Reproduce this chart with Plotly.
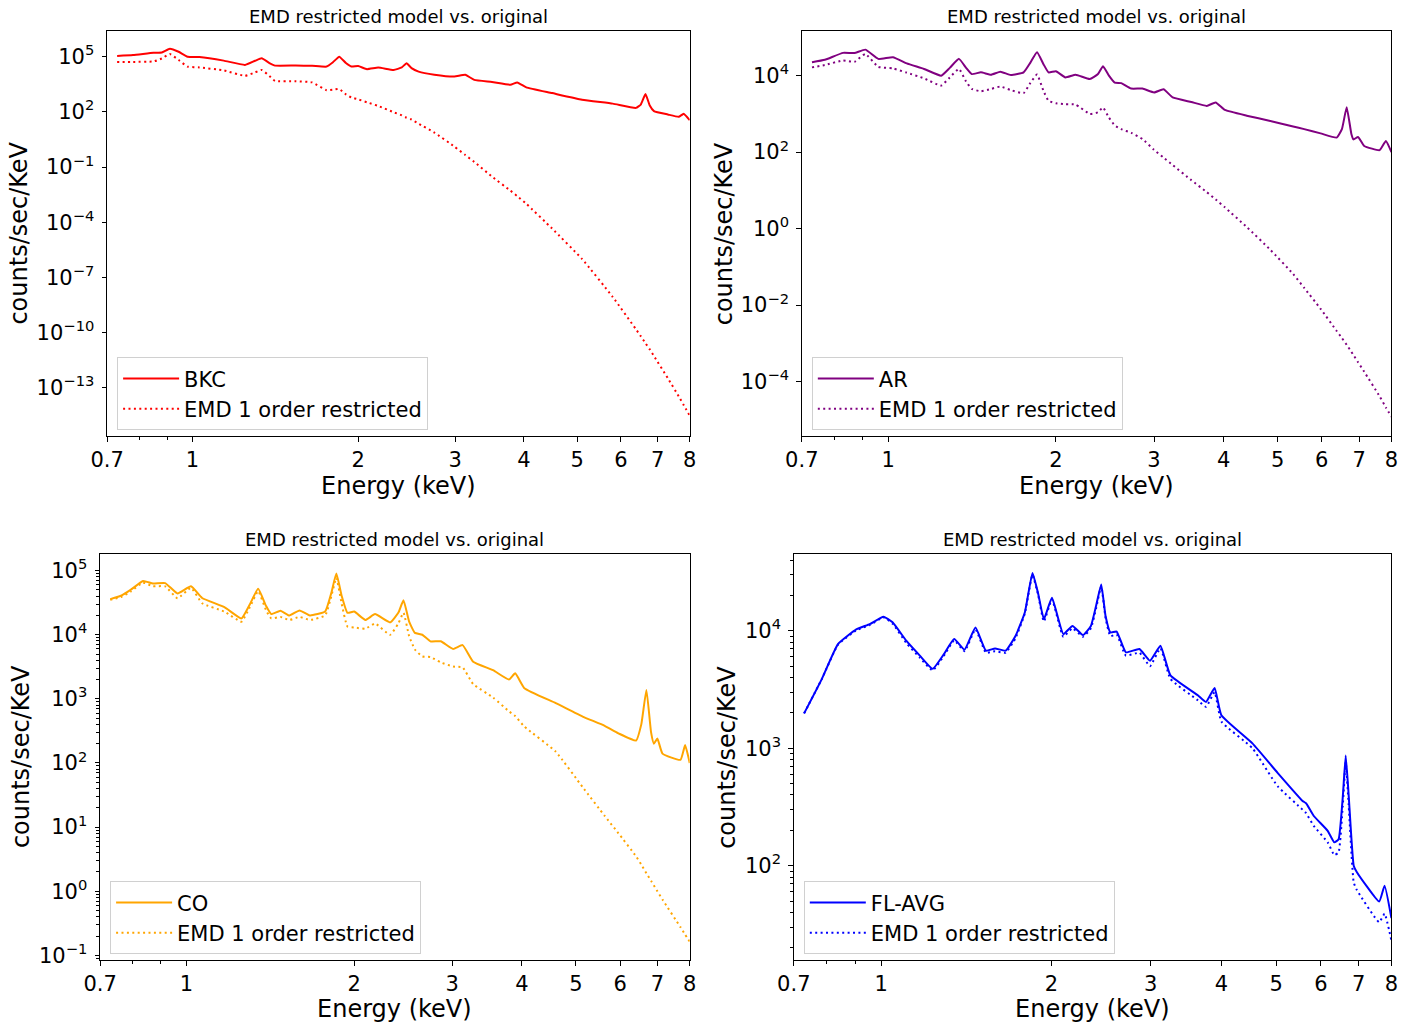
import math
import plotly.graph_objects as go

# ---------------- data ----------------
# Panel 1: BKC
energy_bkc = [0.73, 0.78, 0.85, 0.88, 0.91, 0.944, 0.98, 1.03, 1.14, 1.246, 1.30, 1.336, 1.38, 1.413,
              1.54, 1.65, 1.753, 1.80, 1.848, 1.90, 1.944, 2.0, 2.075, 2.175, 2.32, 2.40, 2.448, 2.50,
              2.575, 2.75, 2.99, 3.13, 3.25, 3.5, 3.78, 3.89, 4.04, 4.5, 5.1, 5.8, 6.39, 6.52, 6.65,
              6.77, 6.89, 7.3, 7.64, 7.8, 8.0]
bkc_orig = [1.09e5, 1.23e5, 1.64e5, 1.7e5, 2.7e5, 1.86e5, 1.0e5, 9.6e4, 6.1e4, 3.56e4, 6.0e4, 8.1e4,
            4.5e4, 3.27e4, 3.3e4, 3.2e4, 2.9e4, 5.0e4, 1.0e5, 4.5e4, 2.9e4, 3.1e4, 2.1e4, 2.56e4,
            1.9e4, 2.6e4, 4.4e4, 2.4e4, 1.55e4, 1.05e4, 8.3e3, 1.03e4, 5.5e3, 4.2e3, 2.95e3, 4.0e3,
            2.14e3, 1.05e3, 460, 280, 164, 250, 930, 220, 109, 72, 54, 78, 35]
bkc_emd = [5.2e4, 5.2e4, 5.5e4, 8.0e4, 1.4e5, 6.6e4, 2.9e4, 2.6e4, 1.8e4, 9.1e3, 1.4e4, 1.9e4, 9.0e3,
           4.8e3, 4.6e3, 4.0e3, 1.5e3, 1.6e3, 1.74e3, 900, 600, 480, 330, 210, 95, 65, 48, 38, 22.6,
           7.5, 1.3, 0.45, 0.19, 0.03, 5.2e-3, 2.6e-3, 1.0e-3, 4.5e-5, 1.0e-6, 8.5e-9, 1.5e-10,
           6.3e-11, 2.6e-11, 1.2e-11, 5.2e-12, 3.3e-13, 3.4e-14, 1.15e-14, 3.0e-15]

# Panel 2: AR
energy_ar = [0.73, 0.77, 0.83, 0.87, 0.91, 0.96, 1.02, 1.08, 1.16, 1.245, 1.29, 1.34, 1.38, 1.413, 1.467,
             1.53, 1.59, 1.66, 1.75, 1.80, 1.85, 1.90, 1.94, 2.0, 2.08, 2.17, 2.30, 2.38, 2.43, 2.49,
             2.55, 2.62, 2.73, 2.86, 3.0, 3.12, 3.24, 3.5, 3.73, 3.87, 4.02, 4.4, 4.85, 5.33, 5.58,
             5.97, 6.38, 6.52, 6.65, 6.78, 6.84, 6.97, 7.15, 7.62, 7.82, 8.0]
ar_orig = [2.24e4, 2.6e4, 3.95e4, 3.9e4, 4.8e4, 2.75e4, 3.05e4, 2.1e4, 1.5e4, 1.0e4, 1.6e4, 2.75e4,
           1.6e4, 1.1e4, 1.22e4, 1.06e4, 1.27e4, 1.04e4, 1.22e4, 2.2e4, 4.1e4, 2.0e4, 1.22e4, 1.3e4,
           9.0e3, 1.06e4, 8.2e3, 1.1e4, 1.77e4, 1.0e4, 6.6e3, 6.4e3, 4.6e3, 4.6e3, 3.65e3, 4.4e3,
           2.7e3, 2.05e3, 1.62e3, 2.0e3, 1.27e3, 900, 655, 470, 400, 310, 240, 400, 1.5e3, 300, 215,
           250, 145, 113, 195, 100]
ar_emd = [1.65e4, 1.9e4, 2.5e4, 2.3e4, 3.7e4, 1.7e4, 1.55e4, 1.2e4, 8.5e3, 5.5e3, 9.0e3, 1.5e4, 7.0e3,
          4.5e3, 3.9e3, 4.5e3, 5.2e3, 4.2e3, 3.5e3, 6.5e3, 1.07e4, 4.0e3, 2.2e3, 1.9e3, 1.8e3, 1.75e3,
          1.0e3, 1.1e3, 1.47e3, 800, 500, 400, 320, 220, 115, 72, 46, 18.5, 9.0, 5.8, 3.6, 1.1,
          0.28, 0.065, 0.028, 8.0e-3, 2.1e-3, 1.37e-3, 9.1e-4, 6.0e-4, 4.9e-4, 3.2e-4, 1.8e-4,
          4.1e-5, 2.1e-5, 1.2e-5]

# Panel 3: CO
energy_co = [0.73, 0.765, 0.794, 0.836, 0.871, 0.916, 0.964, 1.019, 1.067, 1.17, 1.255, 1.30, 1.345,
             1.39, 1.42, 1.475, 1.53, 1.596, 1.665, 1.774, 1.82, 1.858, 1.90, 1.945, 2.0, 2.095, 2.18,
             2.32, 2.40, 2.452, 2.51, 2.57, 2.65, 2.74, 2.86, 3.01, 3.13, 3.27, 3.55, 3.79, 3.89,
             4.04, 4.6, 5.14, 5.63, 5.96, 6.41, 6.55, 6.69, 6.82, 6.9, 7.0, 7.15, 7.7, 7.85, 8.0]
co_orig = [3.6e4, 4.1e4, 5.0e4, 6.9e4, 6.3e4, 6.4e4, 4.4e4, 5.7e4, 3.75e4, 2.7e4, 1.8e4, 3.0e4, 5.2e4,
           2.8e4, 2.1e4, 2.37e4, 2.0e4, 2.4e4, 2.0e4, 2.3e4, 4.5e4, 9.0e4, 4.0e4, 2.2e4, 2.3e4, 1.7e4,
           2.1e4, 1.56e4, 2.2e4, 3.45e4, 1.6e4, 1.07e4, 1.0e4, 7.9e3, 7.9e3, 6.0e3, 6.9e3, 3.8e3,
           2.8e3, 2.0e3, 2.5e3, 1.47e3, 860, 530, 380, 290, 224, 400, 1.38e3, 300, 200, 240, 140,
           112, 190, 100]
co_emd = [3.5e4, 3.9e4, 4.7e4, 6.5e4, 5.7e4, 5.7e4, 3.7e4, 5.4e4, 3.1e4, 2.3e4, 1.6e4, 2.7e4, 4.8e4,
          2.4e4, 1.8e4, 1.9e4, 1.7e4, 1.9e4, 1.7e4, 2.0e4, 4.0e4, 7.7e4, 3.0e4, 1.35e4, 1.3e4, 1.24e4,
          1.5e4, 1.0e4, 1.5e4, 2.2e4, 9.5e3, 5.9e3, 4.6e3, 4.5e3, 3.7e3, 3.2e3, 3.1e3, 1.7e3, 1.05e3,
          640, 540, 370, 150, 42, 15, 8.0, 3.5, 2.6, 1.9, 1.45, 1.23, 1.0, 0.74, 0.275, 0.21, 0.164]

# Panel 4: FL-AVG
energy_fl = [0.73, 0.785, 0.838, 0.903, 0.954, 1.009, 1.047, 1.107, 1.17, 1.233, 1.29, 1.346, 1.404,
             1.468, 1.532, 1.59, 1.66, 1.729, 1.795, 1.852, 1.896, 1.94, 2.005, 2.10, 2.18, 2.275,
             2.35, 2.40, 2.451, 2.495, 2.544, 2.61, 2.71, 2.864, 2.99, 3.12, 3.25, 3.634, 3.757,
             3.891, 4.0, 4.54, 5.03, 5.57, 5.65, 5.83, 6.17, 6.34, 6.45, 6.56, 6.64, 6.72, 6.86,
             6.95, 7.61, 7.78, 8.0]
fl_orig = [1980, 3900, 7700, 10300, 11400, 13200, 11800, 8230, 6150, 4740, 6300, 8500, 6910, 10670,
           6770, 7080, 6770, 9070, 14300, 31100, 20600, 12560, 19100, 9370, 11000, 9190, 11000,
           16300, 24800, 13300, 9680, 9850, 6560, 7000, 5570, 7470, 4170, 2825, 2480, 3260, 1910,
           1100, 618, 356, 340, 265, 198, 158, 168, 380, 867, 400, 100, 88, 49.5, 67.6, 35.8]
fl_emd = [1980, 3900, 7600, 10100, 11200, 13000, 11500, 7900, 5900, 4600, 6100, 8300, 6700, 10300,
          6500, 6700, 6500, 8700, 14000, 30000, 20000, 12000, 18500, 8900, 10500, 8900, 10500,
          15500, 24000, 12800, 9000, 9300, 6150, 6500, 5000, 7100, 3900, 2560, 2250, 3000, 1690,
          1000, 475, 300, 280, 218, 158, 123, 130, 320, 760, 330, 72, 62, 33, 39, 23]

x_tick_vals = [0.7, 1, 2, 3, 4, 5, 6, 7, 8]
x_tick_text = ["0.7", "1", "2", "3", "4", "5", "6", "7", "8"]
x_minor_vals = [0.8, 0.9]

panel_names = ["BKC", "AR", "CO", "FL-AVG"]
panel_colors = ["#ff0000", "#800080", "#ffa500", "#0000ff"]
emd_label = "EMD 1 order restricted"
title_text = "EMD restricted model vs. original"
x_label = "Energy (keV)"
y_label = "counts/sec/KeV"

y_major_exps = [[5, 2, -1, -4, -7, -10, -13], [4, 2, 0, -2, -4], [5, 4, 3, 2, 1, 0, -1], [4, 3, 2]]
y_ranges = [[-15.64, 6.40], [-5.43, 5.17], [-1.077, 5.26], [1.195, 4.654]]
y_minor_on = [False, False, True, True]

# ---------------- layout geometry ----------------
W, H = 1413, 1026
# target pixel positions -> paper fractions (with a small calibration of the rendered page)
def px_x(p): return ((p - 17.0) / 0.982) / W
def px_y(p): return 1 - (p / 0.995) / H

x_domains = [[px_x(107), px_x(689)], [px_x(801), px_x(1390)],
             [px_x(100), px_x(689)], [px_x(793), px_x(1390)]]
y_domains = [[px_y(437), px_y(31)], [px_y(437), px_y(31)],
             [px_y(962), px_y(555)], [px_y(962), px_y(555)]]
legend_pos = [(px_x(117), px_y(358)), (px_x(811), px_y(358)),
              (px_x(110), px_y(883)), (px_x(803), px_y(883))]
ylabel_x = [19, 723, 21, 726]
xlabel_y = [487, 487, 1011, 1011]

FONT = "DejaVu Sans"

def sup_text(e):
    s = str(e).replace("-", "\u2212")
    return "10<sup>" + s + "</sup>"

fig = go.Figure()
series = [(energy_bkc, bkc_orig, bkc_emd), (energy_ar, ar_orig, ar_emd),
          (energy_co, co_orig, co_emd), (energy_fl, fl_orig, fl_emd)]

annotations = []
for i, (en, orig, emd) in enumerate(series):
    n = i + 1
    xa = "x" if n == 1 else f"x{n}"
    ya = "y" if n == 1 else f"y{n}"
    lg = "legend" if n == 1 else f"legend{n}"
    col = panel_colors[i]
    fig.add_trace(go.Scatter(x=en, y=orig, mode="lines", name=panel_names[i],
                             line=dict(color=col, width=2, shape="spline", smoothing=0.4),
                             xaxis=xa, yaxis=ya, legend=lg))
    fig.add_trace(go.Scatter(x=en, y=emd, mode="lines", name=emd_label,
                             line=dict(color=col, width=2, dash="2px,3.4px", shape="spline",
                                       smoothing=0.4),
                             xaxis=xa, yaxis=ya, legend=lg))

    xkey = "xaxis" if n == 1 else f"xaxis{n}"
    ykey = "yaxis" if n == 1 else f"yaxis{n}"
    fig.update_layout({
        xkey: dict(type="log", domain=x_domains[i], anchor=ya,
                   range=[math.log10(0.7), math.log10(8)],
                   tickmode="array", tickvals=x_tick_vals, ticktext=x_tick_text,
                   ticks="outside", ticklen=4.5, tickwidth=1, tickcolor="black",
                   minor=dict(tickmode="array", tickvals=x_minor_vals, ticks="outside",
                              ticklen=3, tickwidth=0.9, tickcolor="black", showgrid=False),
                   showline=True, linecolor="black", linewidth=1.1, mirror=True,
                   showgrid=False, zeroline=False,
                   tickfont=dict(family=FONT, size=21, color="black")),
        ykey: dict(type="log", domain=y_domains[i], anchor=xa,
                   range=y_ranges[i],
                   tickmode="array", tickvals=[10.0 ** e for e in y_major_exps[i]],
                   ticktext=[sup_text(e) for e in y_major_exps[i]],
                   ticks="outside", ticklen=4.5, tickwidth=1, tickcolor="black",
                   ticklabelstandoff=3,
                   showline=True, linecolor="black", linewidth=1.1, mirror=True,
                   showgrid=False, zeroline=False,
                   tickfont=dict(family=FONT, size=21, color="black")),
        lg: dict(x=legend_pos[i][0], y=legend_pos[i][1], xanchor="left", yanchor="top",
                 bgcolor="rgba(255,255,255,0.85)", bordercolor="#d0d0d0", borderwidth=1,
                 font=dict(family=FONT, size=21, color="black"),
                 itemwidth=56, tracegroupgap=0),
    })
    if y_minor_on[i]:
        lo, hi = y_ranges[i]
        minors = []
        for d in range(int(math.floor(lo)) - 1, int(math.ceil(hi)) + 1):
            for m in range(2, 10):
                v = m * 10.0 ** d
                if lo <= math.log10(v) <= hi:
                    minors.append(v)
        fig.layout[ykey].minor = dict(tickmode="array", tickvals=minors, ticks="outside",
                                      ticklen=2.8, tickwidth=0.9, tickcolor="black",
                                      showgrid=False)

    xc = (x_domains[i][0] + x_domains[i][1]) / 2
    yc = (y_domains[i][0] + y_domains[i][1]) / 2
    annotations.append(dict(text=title_text, x=xc, y=y_domains[i][1], xref="paper", yref="paper",
                            xanchor="center", yanchor="bottom", yshift=2, showarrow=False,
                            font=dict(family=FONT, size=18, color="black")))
    annotations.append(dict(text=x_label, x=xc, y=px_y(xlabel_y[i]), xref="paper", yref="paper",
                            xanchor="center", yanchor="middle", showarrow=False,
                            font=dict(family=FONT, size=24, color="black")))
    annotations.append(dict(text=y_label, x=px_x(ylabel_x[i]), y=yc, xref="paper", yref="paper",
                            xanchor="center", yanchor="middle", textangle=-90, showarrow=False,
                            font=dict(family=FONT, size=24, color="black")))

fig.update_layout(width=W, height=H, margin=dict(l=0, r=0, t=0, b=0),
                  paper_bgcolor="white", plot_bgcolor="white",
                  annotations=annotations, showlegend=True,
                  font=dict(family=FONT, color="black"))

fig.write_html("out.html")
